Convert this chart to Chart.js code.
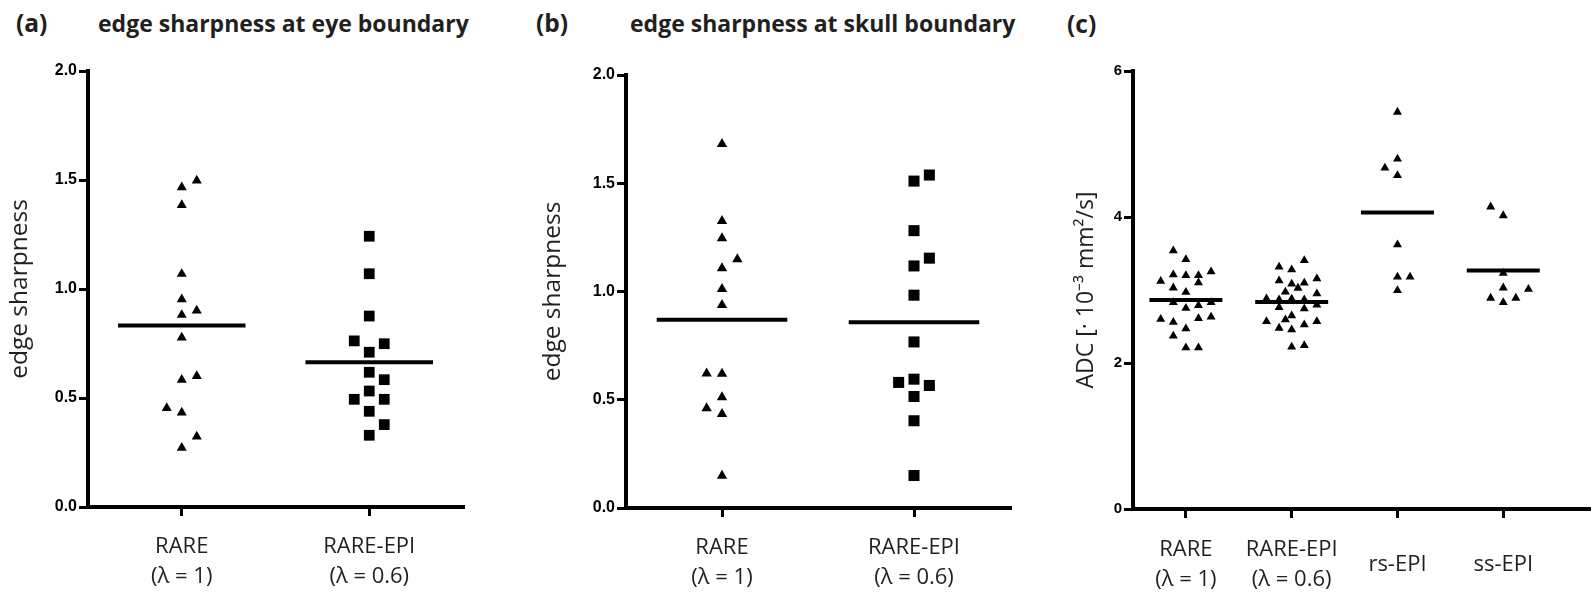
<!DOCTYPE html>
<html><head><meta charset="utf-8">
<script src="https://cdn.jsdelivr.net/npm/chart.js@4.4.1/dist/chart.umd.min.js"></script>
<style>
html,body{margin:0;padding:0;background:#fff;}
body{width:1595px;height:592px;position:relative;overflow:hidden;}
canvas{position:absolute;top:0;}
.lbl{position:absolute;font-family:'Open Sans',sans-serif;font-weight:700;color:#231f20;line-height:1;white-space:nowrap;}
</style></head><body>
<div class="lbl" style="left:16px;top:11px;font-size:24.5px">(a)</div>
<div class="lbl" id="ta" style="left:98px;top:11.5px;font-size:23px"></div>
<div class="lbl" style="left:536px;top:11px;font-size:24.5px">(b)</div>
<div class="lbl" id="tb" style="left:630px;top:11.5px;font-size:23px"></div>
<div class="lbl" style="left:1067px;top:12px;font-size:24.5px">(c)</div>
<canvas id="ca" width="530" height="592" style="left:0px"></canvas>
<canvas id="cb" width="520" height="592" style="left:530px"></canvas>
<canvas id="cc" width="555" height="592" style="left:1040px"></canvas>
<script>
// ---- text ----
const titleA = 'edge sharpness at eye boundary';
const titleB = 'edge sharpness at skull boundary';
const yTitleEdge = 'edge sharpness';
const yTitleAdc = 'ADC [· 10⁻³ mm²/s]';

// ---- categories & ticks ----
const edgeCategories = [['RARE', '(λ = 1)'], ['RARE-EPI', '(λ = 0.6)']];
const adcCategories = [['RARE', '(λ = 1)'], ['RARE-EPI', '(λ = 0.6)'], 'rs-EPI', 'ss-EPI'];
const edgeTicks = [0, 0.5, 1.0, 1.5, 2.0];
const adcTicks = [0, 2, 4, 6];

// ---- (a) eye boundary ----
const eyeRare = [1.466, 1.497, 1.385, 1.069, 0.953, 0.901, 0.881, 0.777, 0.601, 0.583, 0.454, 0.433, 0.323, 0.271];
const eyeRareCol = [0, 1, 0, 0, 0, 1, 0, 0, 1, 0, -1, 0, 1, 0];
const eyeRareMean = 0.832;
const eyeEpi = [1.242, 1.070, 0.876, 0.762, 0.749, 0.710, 0.618, 0.584, 0.532, 0.494, 0.494, 0.439, 0.378, 0.329];
const eyeEpiCol = [0, 0, 0, -1, 1, 0, 0, 1, 0, -1, 1, 0, 1, 0];
const eyeEpiMean = 0.664;

// ---- (b) skull boundary ----
const skullRare = [1.681, 1.326, 1.246, 1.149, 1.107, 1.012, 0.938, 0.621, 0.620, 0.512, 0.461, 0.434, 0.149];
const skullRareCol = [0, 0, 0, 1, 0, 0, 0, -1, 0, 0, -1, 0, 0];
const skullRareMean = 0.869;
const skullEpi = [1.538, 1.510, 1.281, 1.154, 1.118, 0.983, 0.767, 0.595, 0.580, 0.566, 0.515, 0.403, 0.150];
const skullEpiCol = [1, 0, 0, 1, 0, 0, 0, 0, -1, 1, 0, 0, 0];
const skullEpiMean = 0.858;

// ---- (c) ADC ----
const adcRare = [3.54, 3.42, 3.12, 3.21, 3.20, 3.20, 3.25, 3.10, 3.03, 2.97, 2.83, 2.75, 2.79, 2.83, 2.60, 2.56, 2.61, 2.63, 2.47, 2.37, 2.21, 2.21];
const adcRareCol = [-1, 0, -2, -1, 0, 1, 2, 1, -1, 0, -1, 0, 1, 2, -2, -1, 1, 2, 0, -1, 0, 1];
const adcRareMean = 2.863;
const adcRareEpi = [3.405, 3.315, 3.278, 3.155, 3.127, 3.082, 3.096, 3.027, 2.973, 2.949, 2.881, 2.867, 2.877, 2.867, 2.762, 2.744, 2.795, 2.648, 2.593, 2.570, 2.479, 2.456, 2.525, 2.570, 2.219, 2.241];
const adcRareEpiCol = [1, -1, 0, 2, -1, 0, 1, 0.5, -0.5, 2, -2, -1, 0, 1, -1, 1, 2, 0, -0.5, -2, -1, 0, 1, 2, 0, 1];
const adcRareEpiMean = 2.836;
const adcRsEpi = [5.438, 4.795, 4.671, 4.570, 3.621, 3.178, 3.178, 2.995];
const adcRsEpiCol = [0, 0, -1, 0, 0, 0, 1, 0];
const adcRsEpiMean = 4.063;
const adcSsEpi = [4.14, 4.02, 3.23, 3.03, 3.01, 2.89, 2.83, 2.89];
const adcSsEpiCol = [-1, 0, 0, 0, 2, -1, 0, 1];
const adcSsEpiMean = 3.267;

document.getElementById('ta').textContent = titleA;
document.getElementById('tb').textContent = titleB;

function pts(values, cols, ci, step) {
  return values.map((v, i) => ({x: ci + 0.5 + cols[i] * step, y: v}));
}
function meanLine(mean, ci, half) {
  return [{x: ci + 0.5 - half, y: mean}, {x: ci + 0.5 + half, y: mean}];
}

function build(id, o) {
  const datasets = [];
  o.groups.forEach((g, gi) => {
    datasets.push({
      data: pts(g.values, g.cols, gi, o.step),
      pointStyle: g.style, pointRadius: g.radius, pointHoverRadius: g.radius,
      backgroundColor: '#000', pointBackgroundColor: '#000',
      borderWidth: 0, pointBorderWidth: 0, showLine: false, clip: false
    });
    datasets.push({
      data: meanLine(g.mean, gi, o.half),
      showLine: true, borderColor: '#000', borderWidth: 4, pointRadius: 0,
      pointHoverRadius: 0, fill: false, borderCapStyle: 'butt', clip: false
    });
  });
  return new Chart(document.getElementById(id), {
    type: 'scatter',
    data: {datasets},
    options: {
      responsive: false, animation: false, devicePixelRatio: 1,
      events: [],
      layout: {padding: {top: o.top, right: o.padRight, left: 0, bottom: 0}},
      plugins: {legend: {display: false}, tooltip: {enabled: false}},
      scales: {
        x: {
          type: 'linear', min: 0, max: o.xMax,
          afterBuildTicks: s => { s.ticks = o.cats.map((c, i) => ({value: i + 0.5})); },
          afterFit: s => { s.height = o.xHeight; },
          ticks: {
            autoSkip: false, maxRotation: 0, minRotation: 0, crossAlign: 'center',
            padding: o.xPad, color: '#231f20',
            font: {family: 'Open Sans', size: 22, lineHeight: 1.36},
            callback: v => o.cats[Math.round(v - 0.5)]
          },
          grid: {drawOnChartArea: false, drawTicks: true, tickLength: 9, lineWidth: 3, color: '#000'},
          border: {display: true, width: 4, color: '#000'}
        },
        y: {
          type: 'linear', min: 0, max: o.yMax,
          afterBuildTicks: s => { s.ticks = o.yTicks.map(v => ({value: v})); },
          afterFit: s => { s.width = o.yWidth; },
          ticks: {
            padding: 2, color: '#000',
            font: {family: 'Liberation Sans', size: o.yFont, weight: 'bold'},
            callback: v => o.fmt(v)
          },
          grid: {drawOnChartArea: false, drawTicks: true, tickLength: 9, lineWidth: 3, color: '#000'},
          border: {display: true, width: 4, color: '#000'},
          title: {
            display: true, text: o.yTitle, color: '#231f20',
            font: {family: 'Open Sans', size: o.titleFont, lineHeight: 1.2},
            padding: {top: o.titlePad, bottom: 0}
          }
        }
      }
    }
  });
}

build('ca', {
  top: 71, padRight: 67, xHeight: 85, yWidth: 88, xMax: 2, yMax: 2, xPad: 31,
  step: 0.08, half: 0.34, cats: edgeCategories, yTicks: edgeTicks, yFont: 16,
  fmt: v => v.toFixed(1), yTitle: yTitleEdge, titleFont: 24.5, titlePad: 5.5,
  groups: [
    {values: eyeRare, cols: eyeRareCol, mean: eyeRareMean, style: 'triangle', radius: 5.8},
    {values: eyeEpi, cols: eyeEpiCol, mean: eyeEpiMean, style: 'rect', radius: 7.6}
  ]
});
build('cb', {
  top: 75, padRight: 40, xHeight: 84, yWidth: 96, xMax: 2, yMax: 2, xPad: 31,
  step: 0.08, half: 0.34, cats: edgeCategories, yTicks: edgeTicks, yFont: 16,
  fmt: v => v.toFixed(1), yTitle: yTitleEdge, titleFont: 24.5, titlePad: 8.8,
  groups: [
    {values: skullRare, cols: skullRareCol, mean: skullRareMean, style: 'triangle', radius: 6},
    {values: skullEpi, cols: skullEpiCol, mean: skullEpiMean, style: 'rect', radius: 7.8}
  ]
});
build('cc', {
  top: 71, padRight: 0, xHeight: 83, yWidth: 93, xMax: 4.318, yMax: 6, xPad: 32,
  step: 0.119, half: 0.345, cats: adcCategories, yTicks: adcTicks, yFont: 15,
  fmt: v => String(v), yTitle: yTitleAdc, titleFont: 23, titlePad: 32.6,
  groups: [
    {values: adcRare, cols: adcRareCol, mean: adcRareMean, style: 'triangle', radius: 5.2},
    {values: adcRareEpi, cols: adcRareEpiCol, mean: adcRareEpiMean, style: 'triangle', radius: 5.2},
    {values: adcRsEpi, cols: adcRsEpiCol, mean: adcRsEpiMean, style: 'triangle', radius: 5.2},
    {values: adcSsEpi, cols: adcSsEpiCol, mean: adcSsEpiMean, style: 'triangle', radius: 5.2}
  ]
});
</script>
</body></html>
